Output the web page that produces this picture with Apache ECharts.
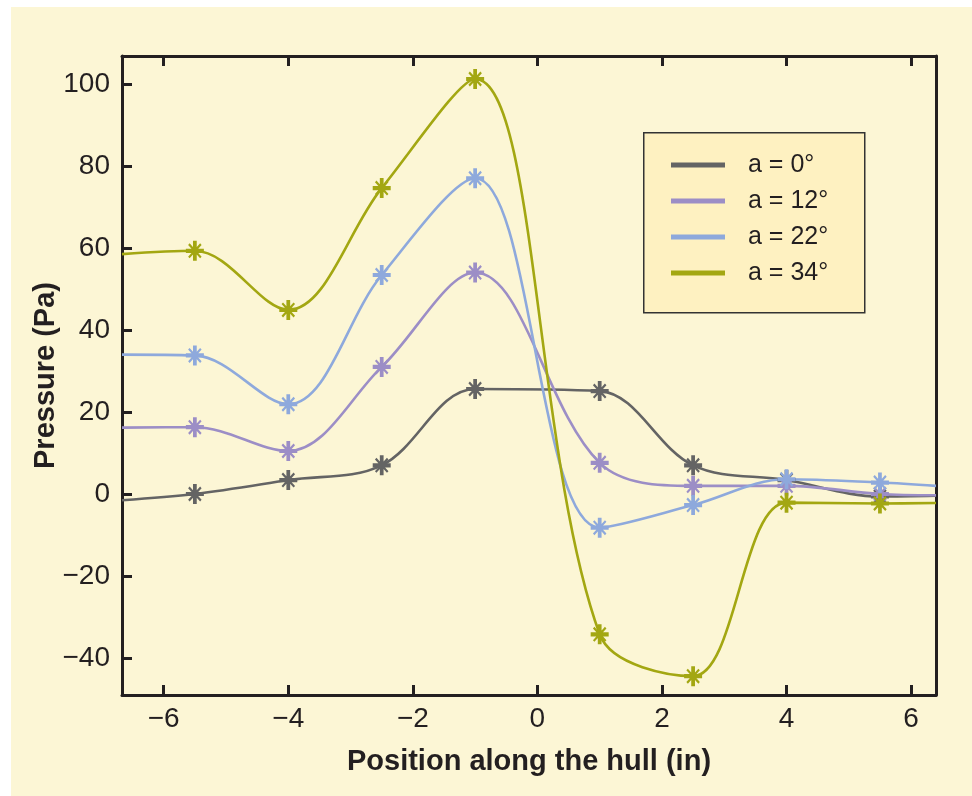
<!DOCTYPE html>
<html>
<head>
<meta charset="utf-8">
<script src="https://cdn.jsdelivr.net/npm/echarts@6/dist/echarts.min.js"></script>
<style>
  html, body { margin: 0; padding: 0; background: #ffffff; }
  #chart { position: absolute; left: 11px; top: 7px; width: 961px; height: 789px; }
</style>
</head>
<body>
<div id="chart"></div>
<script>
// measurement positions along the hull (in)
var positions = [-5.5, -4, -2.5, -1, 1, 2.5, 4, 5.5];
// where the drawn curves meet the frame
var edgeX = [-6.67, 6.4];

var names = ['a = 0°', 'a = 12°', 'a = 22°', 'a = 34°'];
var colors = ['#646464', '#9c8ec6', '#8ea9dc', '#a3a712'];

// pressure (Pa) at each position
var p0  = [0, 3.4, 7, 25.6, 25.1, 7, 3.4, -0.6];
var p12 = [16.3, 10.5, 31, 54, 7.6, 2, 2, 0];
var p22 = [33.8, 21.9, 53.4, 77, -8.2, -2.7, 3.6, 2.8];
var p34 = [59.3, 44.9, 74.6, 101.2, -34.2, -44.4, -2.1, -2.3];
// values where curves leave the frame, left and right
var edge0  = [-1.5, -0.4];
var edge12 = [16.2, -0.3];
var edge22 = [34, 2];
var edge34 = [58.5, -2.2];

var allValues = [p0, p12, p22, p34];
var allEdges = [edge0, edge12, edge22, edge34];

var star = 'path://M9.5 0H14.5V24H9.5Z M0 9.5H24V14.5H0Z M3 5L5 3L21 19L19 21Z M19 3L21 5L5 21L3 19Z';

var ink = '#231f20';
var tickFont = 'Liberation Sans, Arial, sans-serif';

function stepFmt(step) {
    return function (v) {
        var k = v / step;
        if (Math.abs(k - Math.round(k)) > 1e-6) return '';
        return v < 0 ? '\u2212' + Math.abs(v) : String(v);
    };
}

var series = [];
for (var s = 0; s < names.length; s++) {
    var data = [{ value: [edgeX[0], allEdges[s][0]], symbol: 'none' }];
    for (var i = 0; i < positions.length; i++) {
        data.push([positions[i], allValues[s][i]]);
    }
    data.push({ value: [edgeX[1], allEdges[s][1]], symbol: 'none' });
    series.push({
        name: names[s],
        type: 'line',
        smooth: 0.35,
        symbol: star,
        symbolSize: [18, 20],
        showAllSymbol: true,
        lineStyle: { color: colors[s], width: 2.6 },
        itemStyle: { color: colors[s], borderWidth: 0 },
        emphasis: { disabled: true },
        data: data
    });
}

var chart = echarts.init(document.getElementById('chart'));
chart.setOption({
    animation: false,
    backgroundColor: '#fcf6d5',
    grid: { left: 111, right: 36, top: 49, bottom: 101, show: false },
    graphic: [{
        type: 'rect',
        left: 632, top: 125,
        shape: { width: 221, height: 180 },
        style: { fill: '#fef1c1', stroke: '#333333', lineWidth: 1.5 },
        z: 50
    }],
    legend: {
        left: 660, top: 145,
        orient: 'vertical',
        padding: 0,
        icon: 'rect',
        itemWidth: 54,
        itemHeight: 5,
        itemGap: 10,
        z: 60,
        textStyle: {
            fontFamily: tickFont, fontSize: 25, lineHeight: 26,
            color: ink, padding: [0, 0, 0, 18]
        },
        data: names
    },
    xAxis: [{
        type: 'value',
        min: edgeX[0], max: edgeX[1],
        splitNumber: 6,
        name: 'Position along the hull (in)',
        nameLocation: 'middle',
        nameGap: 52,
        nameTextStyle: { fontFamily: tickFont, fontWeight: 'bold', fontSize: 29, color: ink },
        axisLine: { onZero: false, lineStyle: { color: ink, width: 3 } },
        axisTick: { inside: true, length: 10, lineStyle: { color: ink, width: 3 } },
        axisLabel: { fontFamily: tickFont, fontSize: 28, color: ink, margin: 10, formatter: stepFmt(2) },
        splitLine: { show: false }
    }, {
        type: 'value',
        position: 'top',
        min: edgeX[0], max: edgeX[1],
        splitNumber: 6,
        axisLine: { onZero: false, lineStyle: { color: ink, width: 3 } },
        axisTick: { inside: true, length: 10, lineStyle: { color: ink, width: 3 } },
        axisLabel: { show: false },
        splitLine: { show: false }
    }],
    yAxis: [{
        type: 'value',
        min: -49, max: 106.8,
        splitNumber: 8,
        name: 'Pressure (Pa)',
        nameLocation: 'middle',
        nameGap: 62,
        nameMoveOverlap: false,
        nameTextStyle: { fontFamily: tickFont, fontWeight: 'bold', fontSize: 29, color: ink },
        axisLine: { onZero: false, lineStyle: { color: ink, width: 3 } },
        axisTick: { inside: true, length: 10, lineStyle: { color: ink, width: 3 } },
        axisLabel: { fontFamily: tickFont, fontSize: 28, color: ink, margin: 12, formatter: stepFmt(20) },
        splitLine: { show: false }
    }, {
        type: 'value',
        position: 'right',
        min: -49, max: 106.8,
        axisLine: { show: true, onZero: false, lineStyle: { color: ink, width: 3 } },
        axisTick: { show: false },
        axisLabel: { show: false },
        splitLine: { show: false }
    }],
    series: series
});
</script>
</body>
</html>
